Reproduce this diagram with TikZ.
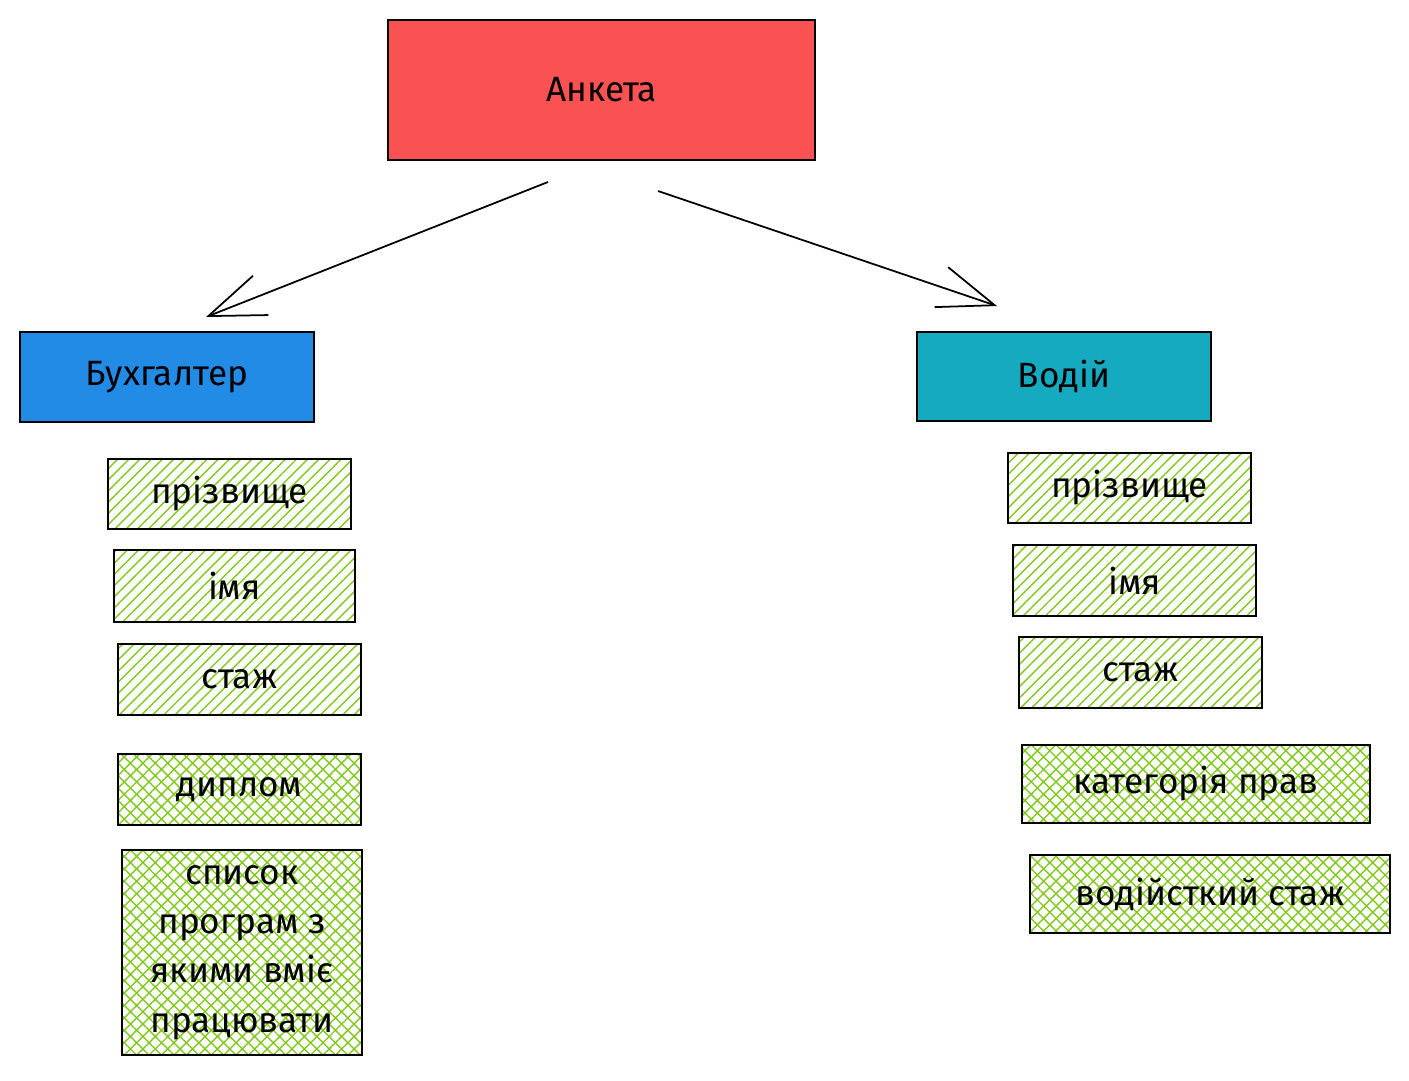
\documentclass[tikz,border=0pt]{standalone}
\usepackage{fontspec}
\setmainfont{Fira Sans}
\usetikzlibrary{arrows.meta,patterns.meta}

\definecolor{anketared}{HTML}{FA5252}
\definecolor{buhblue}{HTML}{228BE6}
\definecolor{vodteal}{HTML}{15AABF}
\definecolor{fieldgreen}{HTML}{82C91E}

\tikzset{
 box/.style={draw=black, line width=1.3pt, inner sep=0pt, align=center,
   font=\fontsize{20}{28}\selectfont},
 field/.style={box, pattern={Lines[angle=45,distance=4.5pt,line width=0.8pt]},
   pattern color=fieldgreen},
 fieldx/.style={box, pattern={Hatch[angle=45,distance=5pt,line width=0.8pt]},
   pattern color=fieldgreen},
 link/.style={line width=1pt, -{Straight Barb[length=32pt,width=24pt,line width=1pt]}}
}

\begin{document}
\begin{tikzpicture}[x=0.02cm, y=-0.02cm]
 \fill [white] (0,0) rectangle (1409,1080); % background
 \useasboundingbox (0,0) rectangle (1409,1080);

 \node (anketa) at (601.5,90) [box, fill=anketared, minimum width=8.54cm, minimum height=2.8cm] {Анкета}; % top
 \node (buh) at (167,377) [box, fill=buhblue, minimum width=5.88cm, minimum height=1.8cm] {Бухгалтер}; % left
 \node (vod) at (1064,376.5) [box, fill=vodteal, minimum width=5.88cm, minimum height=1.78cm] {Водій}; % right

 % fields of Бухгалтер
 \node (b1) at (229.5,494) [field, minimum width=4.86cm, minimum height=1.4cm] {прізвище};
 \node (b2) at (234.5,586) [field, minimum width=4.82cm, minimum height=1.44cm] {імя};
 \node (b3) at (239.5,679.5) [field, minimum width=4.86cm, minimum height=1.42cm] {стаж};
 \node (b4) at (239.5,789.5) [fieldx, minimum width=4.86cm, minimum height=1.42cm] {диплом};
 \node (b5) at (242,952.5) [fieldx, minimum width=4.8cm, minimum height=4.1cm] {список\\програм з\\якими вміє\\працювати};

 % fields of Водій
 \node (v1) at (1129.5,488) [field, minimum width=4.86cm, minimum height=1.4cm] {прізвище};
 \node (v2) at (1134.5,580.5) [field, minimum width=4.86cm, minimum height=1.42cm] {імя};
 \node (v3) at (1140.5,672.5) [field, minimum width=4.86cm, minimum height=1.42cm] {стаж};
 \node (v4) at (1196,784) [fieldx, minimum width=6.96cm, minimum height=1.56cm] {категорія прав};
 \node (v5) at (1210,894) [fieldx, minimum width=7.2cm, minimum height=1.56cm] {водійсткий стаж};

 \coordinate (L1) at (548,182); % start of left arrow
 \coordinate (L2) at (206,317); % tip of left arrow
 \coordinate (R1) at (658,191); % start of right arrow
 \coordinate (R2) at (997,306); % tip of right arrow

 \draw [link] (L1) -- (L2);
 \draw [link] (R1) -- (R2);
\end{tikzpicture}
\end{document}
